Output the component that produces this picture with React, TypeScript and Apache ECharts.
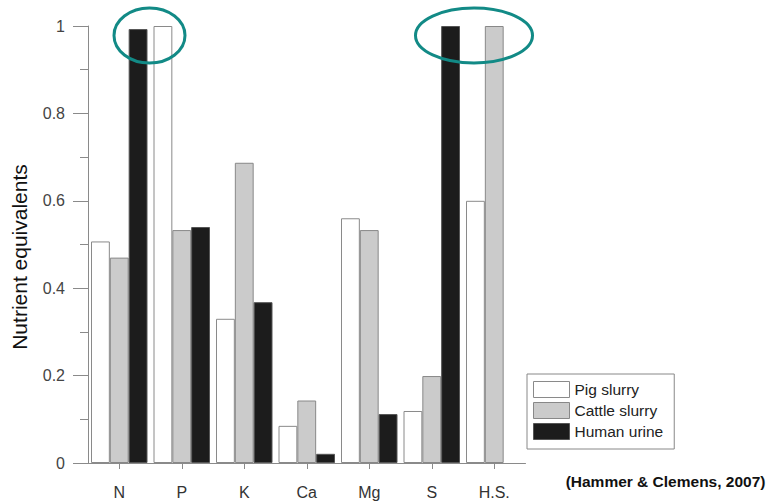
import React, { useEffect, useRef } from "react";
import * as echarts from "echarts";

const categories = ["N", "P", "K", "Ca", "Mg", "S", "H.S."];
const pigSlurry = [0.507, 1.0, 0.33, 0.085, 0.56, 0.119, 0.6];
const cattleSlurry = [0.47, 0.533, 0.687, 0.143, 0.533, 0.199, 1.0];
const humanUrine: (number | null)[] = [0.993, 0.54, 0.368, 0.021, 0.112, 1.0, null];
const seriesNames = ["Pig slurry", "Cattle slurry", "Human urine"];
const yAxisTitle = "Nutrient equivalents";
const citation = "(Hammer & Clemens, 2007)";

const FONT = "'Liberation Sans', Arial, Helvetica, sans-serif";
const AXIS = "#8a8a8a";
const TEAL = "#128a86";

const styles = [
  { color: "#ffffff", borderColor: "#8a8a8a", borderWidth: 1 },
  { color: "#cbcbcb", borderColor: "#888888", borderWidth: 1 },
  { color: "#1c1c1c", borderColor: "#555555", borderWidth: 1 },
];

export default function App() {
  const ref = useRef<HTMLDivElement>(null);
  useEffect(() => {
    if (!ref.current) return;
    const chart = echarts.init(ref.current, undefined, { renderer: "svg" });
    const data = [pigSlurry, cattleSlurry, humanUrine];
    chart.setOption({
      animation: false,
      backgroundColor: "#ffffff",
      textStyle: { fontFamily: FONT },
      grid: { left: 88, right: 246.5, top: 26, bottom: 40, containLabel: false },
      legend: {
        orient: "vertical",
        left: 527,
        top: 374,
        icon: "rect",
        itemWidth: 36,
        itemHeight: 16,
        itemGap: 4,
        padding: [7, 11, 9, 6],
        borderColor: "#888888",
        borderWidth: 1,
        textStyle: { fontSize: 15.5, color: "#222", fontFamily: FONT, lineHeight: 16 },
        data: seriesNames.map((n, i) => ({ name: n, itemStyle: styles[i] })),
      },
      xAxis: {
        type: "category",
        data: categories,
        axisLine: { show: true, lineStyle: { color: AXIS, width: 1 } },
        axisTick: { show: true, alignWithLabel: true, length: 6, lineStyle: { color: AXIS } },
        axisLabel: { fontSize: 16, color: "#333", margin: 21, fontFamily: FONT },
        splitLine: { show: false },
      },
      yAxis: {
        type: "value",
        min: 0,
        max: 1,
        interval: 0.2,
        axisLine: { show: true, lineStyle: { color: AXIS, width: 1 } },
        axisTick: { show: true, length: 15, lineStyle: { color: AXIS } },
        minorTick: { show: true, splitNumber: 2, length: 8, lineStyle: { color: AXIS } },
        axisLabel: { fontSize: 16, color: "#444", margin: 23, fontFamily: FONT },
        splitLine: { show: false },
      },
      series: seriesNames.map((n, i) => ({
        name: n,
        type: "bar",
        data: data[i],
        barGap: "0%",
        barCategoryGap: "9.6%",
        itemStyle: styles[i],
      })),
      graphic: [
        {
          type: "text",
          x: 19,
          y: 257,
          rotation: Math.PI / 2,
          style: {
            text: yAxisTitle,
            fontSize: 21,
            fontFamily: FONT,
            fill: "#111",
            textAlign: "center",
            textVerticalAlign: "middle",
          },
        },
        {
          type: "text",
          x: 765.5,
          y: 481,
          style: {
            text: citation,
            fontSize: 15.5,
            fontWeight: "bold",
            fontFamily: FONT,
            fill: "#111",
            textAlign: "right",
            textVerticalAlign: "middle",
          },
        },
        {
          type: "ellipse",
          shape: { cx: 149.5, cy: 35.5, rx: 35.5, ry: 27.5 },
          style: { fill: "none", stroke: TEAL, lineWidth: 3 },
          z: 100,
        },
        {
          type: "ellipse",
          shape: { cx: 474, cy: 35.5, rx: 58.5, ry: 27.5 },
          style: { fill: "none", stroke: TEAL, lineWidth: 3 },
          z: 100,
        },
      ],
    });
    return () => chart.dispose();
  }, []);
  return (
    <div
      ref={ref}
      style={{ position: "absolute", left: 0, top: 0, width: 772, height: 503 }}
    />
  );
}
